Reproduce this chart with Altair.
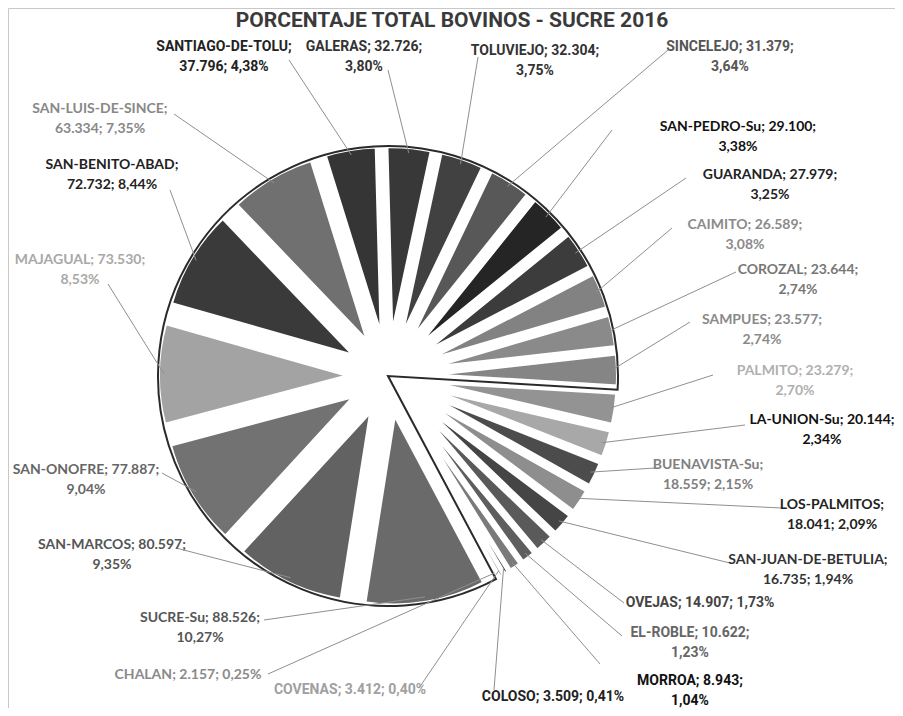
import math
import altair as alt
import pandas as pd

# ---------------- data ----------------
names = ["SUCRE-Su", "SAN-MARCOS", "SAN-ONOFRE", "MAJAGUAL", "SAN-BENITO-ABAD",
         "SAN-LUIS-DE-SINCE", "SANTIAGO-DE-TOLU", "GALERAS", "TOLUVIEJO", "SINCELEJO",
         "SAN-PEDRO-Su", "GUARANDA", "CAIMITO", "COROZAL", "SAMPUES", "PALMITO",
         "LA-UNION-Su", "BUENAVISTA-Su", "LOS-PALMITOS", "SAN-JUAN-DE-BETULIA",
         "OVEJAS", "EL-ROBLE", "MORROA", "COLOSO", "COVENAS", "CHALAN"]
values = [88526, 80597, 77887, 73530, 72732, 63334, 37796, 32726, 32304, 31379,
          29100, 27979, 26589, 23644, 23577, 23279, 20144, 18559, 18041, 16735,
          14907, 10622, 8943, 3509, 3412, 2157]
pct_labels = ["10,27%", "9,35%", "9,04%", "8,53%", "8,44%", "7,35%", "4,38%", "3,80%",
              "3,75%", "3,64%", "3,38%", "3,25%", "3,08%", "2,74%", "2,74%", "2,70%",
              "2,34%", "2,15%", "2,09%", "1,94%", "1,73%", "1,23%", "1,04%", "0,41%",
              "0,40%", "0,25%"]
n_outlined = 15  # the first 15 municipalities form the outlined block
TITLE = "PORCENTAJE TOTAL BOVINOS - SUCRE  2016"

# ---------------- styles / layout ----------------
slice_colors = ["#6a6a6a", "#626262", "#727272", "#a3a3a3", "#3a3a3a", "#707070",
                "#353535", "#383838", "#414141", "#585858", "#252525", "#3c3c3c",
                "#828282", "#8a8a8a", "#858585", "#939393", "#a8a8a8", "#4c4c4c",
                "#8e8e8e", "#454545", "#5a5a5a", "#5e5e5e", "#7a7a7a", "#2e2e2e",
                "#a0a0a0", "#8c8c8c"]
text_colors = ["#555555", "#555555", "#666666", "#a8a8a8", "#222222", "#888888",
               "#222222", "#333333", "#333333", "#555555", "#111111", "#222222",
               "#8a8a8a", "#777777", "#8a8a8a", "#b0b0b0", "#111111", "#808080",
               "#222222", "#333333", "#444444", "#666666", "#111111", "#222222",
               "#a0a0a0", "#8a8a8a"]
# label style: A = "name; value;\npct", B = "name;\nvalue; pct", C = one line
label_style = ["A", "A", "A", "A", "B", "B", "B", "A", "A", "A", "A", "A", "A", "A",
               "A", "A", "A", "B", "B", "B", "C", "A", "A", "C", "C", "C"]
narrow = [False, False, False, False, False, False, True, True, True, True, False,
          False, False, False, False, False, False, False, False, False, True, True,
          True, True, True, False]
# manual label placement (page pixels): label block centre and leader start
label_pos = [(200, 628), (112, 555), (86, 480), (80, 270), (112, 175), (100, 119),
             (224, 57), (364, 57), (535, 61), (730, 57), (738, 137), (770, 185),
             (745, 235), (798, 280), (762, 330), (795, 381), (822, 430), (708, 475),
             (832, 515), (808, 570), (700, 603), (690, 643), (690, 691), (553, 697),
             (350, 690), (188, 675)]
leader_start = [(264, 620), (176, 548), (162, 473), (108, 284), (170, 190), (174, 114),
                (289, 60), (388, 70), (478, 57), (668, 50), (612, 130), (686, 178),
                (672, 228), (736, 272), (690, 322), (713, 375), (745, 425), (655, 468),
                (782, 508), (730, 563), (624, 603), (622, 636), (600, 664), (494, 690),
                (419, 688), (268, 674)]

OFF = 8                      # page margin
W, H = 903 - 2 * OFF, 716 - 2 * OFF
CX, CY = 388 - OFF, 376 - OFF
R_SLICE = 192
EXPLODE = 38
START = math.radians(152)
LINE_H = 20

total = sum(values)


def fmt(v):
    return f"{v:,}".replace(",", ".")


labels = []
for nm, v, p, s in zip(names, values, pct_labels, label_style):
    if s == "A":
        labels.append(f"{nm}; {fmt(v)};\n{p}")
    elif s == "B":
        labels.append(f"{nm};\n{fmt(v)}; {p}")
    else:
        labels.append(f"{nm}; {fmt(v)}; {p}")

df = pd.DataFrame({
    "name": names,
    "value": values,
    "order": list(range(len(names))),
    "label": labels,
    "tcolor": text_colors,
    "narrow": narrow,
    "lx": [p[0] - OFF for p in label_pos],
    # first-line position of each block
    "ly": [p[1] - OFF - (LINE_H / 2 if s != "C" else 0)
           for p, s in zip(label_pos, label_style)],
    "ax": [p[0] - OFF for p in leader_start],
    "ay": [p[1] - OFF for p in leader_start],
})

theta_scale = alt.Scale(domain=[0, 1], range=[START, START + 2 * math.pi])

base = alt.Chart(df).transform_window(
    cum1="sum(value)", sort=[alt.SortField("order")], frame=[None, 0]
).transform_joinaggregate(
    total="sum(value)"
).transform_calculate(
    f0="(datum.cum1 - datum.value) / datum.total",
    f1="datum.cum1 / datum.total",
).transform_calculate(
    mid=f"{START} + PI * (datum.f0 + datum.f1)",
).transform_calculate(
    ox=f"{CX} + {EXPLODE} * sin(datum.mid)",
    oy=f"{CY} - {EXPLODE} * cos(datum.mid)",
    rx=f"{CX} + {R_SLICE + EXPLODE - 6} * sin(datum.mid)",
    ry=f"{CY} - {R_SLICE + EXPLODE - 6} * cos(datum.mid)",
)

slices = base.mark_arc(outerRadius=R_SLICE, innerRadius=0, stroke="white",
                       strokeWidth=4).encode(
    theta=alt.Theta("f0:Q", scale=theta_scale, stack=False),
    theta2="f1:Q",
    x=alt.X("ox:Q", scale=None, axis=None),
    y=alt.Y("oy:Q", scale=None, axis=None),
    color=alt.Color("name:N", scale=alt.Scale(domain=names, range=slice_colors),
                    legend=None),
)

outline_df = pd.DataFrame({"f0": [0.0], "f1": [sum(values[:n_outlined]) / total]})
outline = alt.Chart(outline_df).mark_arc(
    filled=False, stroke="#2a2a2a", strokeWidth=2, outerRadius=R_SLICE + EXPLODE,
    innerRadius=0
).encode(
    theta=alt.Theta("f0:Q", scale=theta_scale, stack=False),
    theta2="f1:Q",
    x=alt.value(CX),
    y=alt.value(CY),
)

leaders = base.mark_rule(color="#8f8f8f", strokeWidth=1).encode(
    x=alt.X("ax:Q", scale=None, axis=None),
    y=alt.Y("ay:Q", scale=None, axis=None),
    x2="rx:Q",
    y2="ry:Q",
)

text_enc = dict(
    x=alt.X("lx:Q", scale=None, axis=None),
    y=alt.Y("ly:Q", scale=None, axis=None),
    text="label:N",
    color=alt.Color("tcolor:N", scale=None),
)
labels_normal = base.transform_filter("!datum.narrow").mark_text(
    font="Lato", fontSize=14, fontWeight="bold", lineBreak="\n", align="center",
    baseline="middle", lineHeight=LINE_H).encode(**text_enc)
labels_narrow = base.transform_filter("datum.narrow").mark_text(
    font="Roboto", fontSize=14, fontWeight="bold", lineBreak="\n", align="center",
    baseline="middle", lineHeight=LINE_H).encode(**text_enc)

title = alt.Chart(pd.DataFrame({"t": [TITLE]})).mark_text(
    font="Roboto", fontSize=21, fontWeight="bold", color="#3a3a3a", align="center",
    baseline="middle"
).encode(text="t:N", x=alt.value(452 - OFF), y=alt.value(21 - OFF))

chart = alt.layer(slices, outline, leaders, labels_normal, labels_narrow, title).properties(
    width=W, height=H, padding=0, autosize="none"
).configure_view(stroke="#c8c8c8", strokeWidth=1)

chart.save("out.html", embed_options={"renderer": "svg", "actions": False})
